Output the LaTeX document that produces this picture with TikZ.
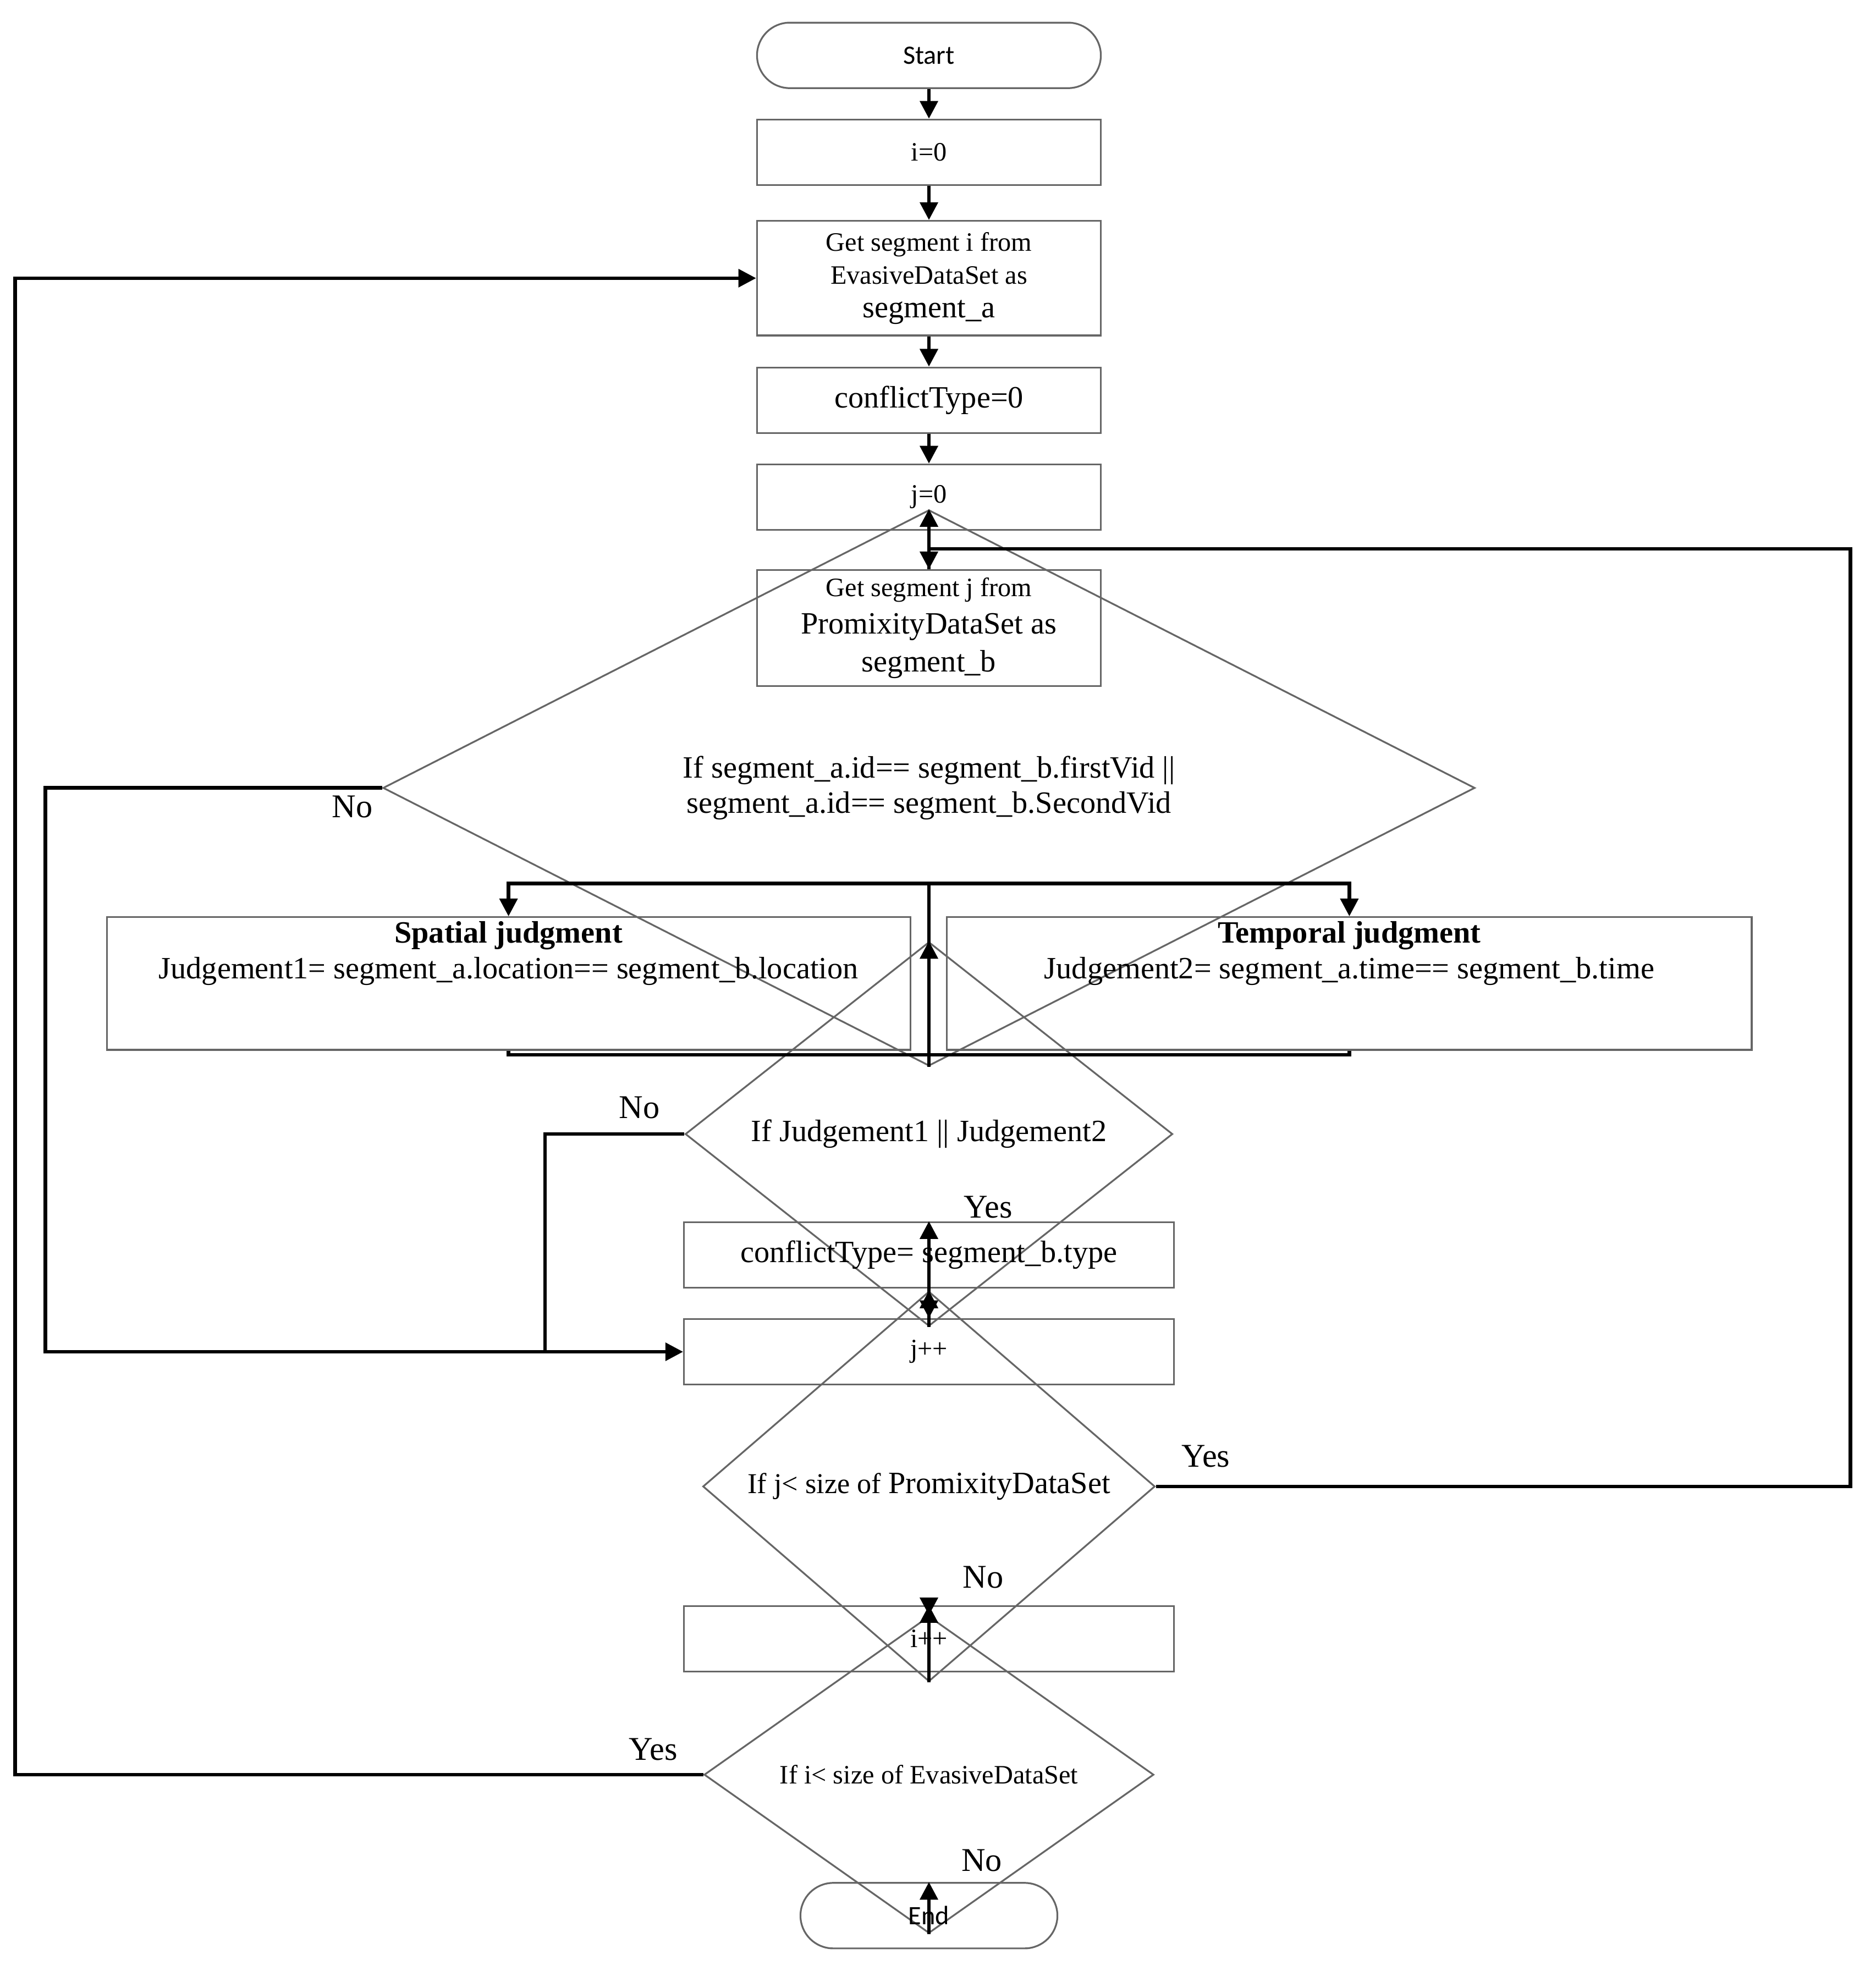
\documentclass[tikz,border=0pt]{standalone}
\usepackage{fontspec}
\setmainfont{Liberation Serif}
\newfontfamily\startfont{Carlito}
\usetikzlibrary{shapes.geometric,arrows.meta}
\tikzset{
	box/.style = {draw, gray!80!black, text=black, rectangle, minimum width=2.73cm, minimum height=0.52cm, inner sep=1pt, align=center, font=\fontsize{7}{8}\selectfont},
	term/.style = {box, rounded corners=0.26cm, font=\startfont\fontsize{6}{7}\selectfont},
	dec/.style = {draw, gray!80!black, text=black, diamond, inner sep=0pt, align=center, font=\fontsize{7}{8}\selectfont},
	line/.style = {draw, thick},
	arr/.style = {line, -{Triangle[length=4pt,width=4pt]}},
	lab/.style = {font=\fontsize{7.5}{8}\selectfont}
}
\begin{document}
\begin{tikzpicture}[x=0.01cm,y=-0.01cm]
	\useasboundingbox (0,0) rectangle (1490,1566);
	\node[term] (start) at (738,44) {Start};
	\node[box, font=\fontsize{6}{7}\selectfont] (i0) at (738,121) {i=0};
	\node[box, minimum height=0.91cm, font=\fontsize{6}{7.5}\selectfont] (geti) at (738,221) {Get segment i from\\EvasiveDataSet as\\{\fontsize{7}{8}\selectfont segment\_a}};
	\node[box] (ct0) at (738,318) {conflictType=0};
	\node[box, font=\fontsize{6}{7}\selectfont] (j0) at (738,395) {j=0};
	\node[box, minimum height=0.92cm, font=\fontsize{7}{8.5}\selectfont] (getj) at (738,499) {{\fontsize{6}{7}\selectfont Get segment j from}\\PromixityDataSet as\\segment\_b};
	\node[dec, minimum width=8.67cm, minimum height=1.11cm] (d1) at (738,626) {If segment\_a.id== segment\_b.firstVid ||\\segment\_a.id== segment\_b.SecondVid};
	\node[box, minimum width=6.38cm, minimum height=0.92cm, anchor=north] (spat) at (404,728) {\textbf{Spatial judgment}\\Judgement1= segment\_a.location== segment\_b.location\\[0.25cm]};
	\node[box, minimum width=6.39cm, minimum height=0.92cm, anchor=north] (temp) at (1072,728) {\textbf{Temporal judgment}\\Judgement2= segment\_a.time== segment\_b.time\\[0.25cm]};
	\node[dec, minimum width=3.87cm, minimum height=0.9cm] (d2) at (738,901) {If Judgement1 || Judgement2};
	\node[box, minimum width=3.89cm] (ctb) at (738,997) {conflictType= segment\_b.type};
	\node[box, minimum width=3.89cm, font=\fontsize{6}{7}\selectfont] (jpp) at (738,1074) {j++};
	\node[dec, minimum width=3.59cm, minimum height=1.1cm, font=\fontsize{6.5}{7.5}\selectfont] (d3) at (738,1181) {If j< size of {\fontsize{7}{8}\selectfont PromixityDataSet}};
	\node[box, minimum width=3.89cm, font=\fontsize{6}{7}\selectfont] (ipp) at (738,1302) {i++};
	\node[dec, minimum width=3.57cm, minimum height=1.1cm, font=\fontsize{6}{7}\selectfont] (d4) at (738,1410) {If i< size of EvasiveDataSet};
	\node[term, minimum width=2.04cm] (end) at (738,1522) {End};
	% main column
	\draw[arr] (start) -- (i0);
	\draw[arr] (i0) -- (geti);
	\draw[arr] (geti) -- (ct0);
	\draw[arr] (ct0) -- (j0);
	\draw[arr] (j0) -- (getj);
	\draw[arr] (getj) -- (d1);
	\draw[arr] (d2) -- (ctb);
	\draw[arr] (ctb) -- (jpp);
	\draw[arr] (jpp) -- (d3);
	\draw[arr] (d3) -- (ipp);
	\draw[arr] (ipp) -- (d4);
	\draw[arr] (d4) -- (end);
	% split and merge
	\coordinate (split) at (738,702);
	\coordinate (merge) at (738,838);
	\draw[line] (d1.south) -- (split);
	\draw[arr] (split) -| (spat.north);
	\draw[arr] (split) -| (temp.north);
	\draw[line] (spat.south) |- (merge);
	\draw[line] (temp.south) |- (merge);
	\draw[arr] (merge) -- (d2);
	% loops
	\draw[arr] (d1.west) -- (36,626) |- (jpp.west);
	\draw[line] (d2.west) -| (433,1074);
	\draw[arr] (d4.west) -- (12,1410) |- (geti.west);
	\coordinate (back) at (738,436);
	\draw[line] (d3.east) -- (1470,1181) |- (back);
	% labels
	\node[lab] at (280,641) {No};
	\node[lab] at (508,880) {No};
	\node[lab] at (785,959) {Yes};
	\node[lab] at (958,1157) {Yes};
	\node[lab] at (781,1253) {No};
	\node[lab] at (519,1390) {Yes};
	\node[lab] at (780,1478) {No};
\end{tikzpicture}
\end{document}
